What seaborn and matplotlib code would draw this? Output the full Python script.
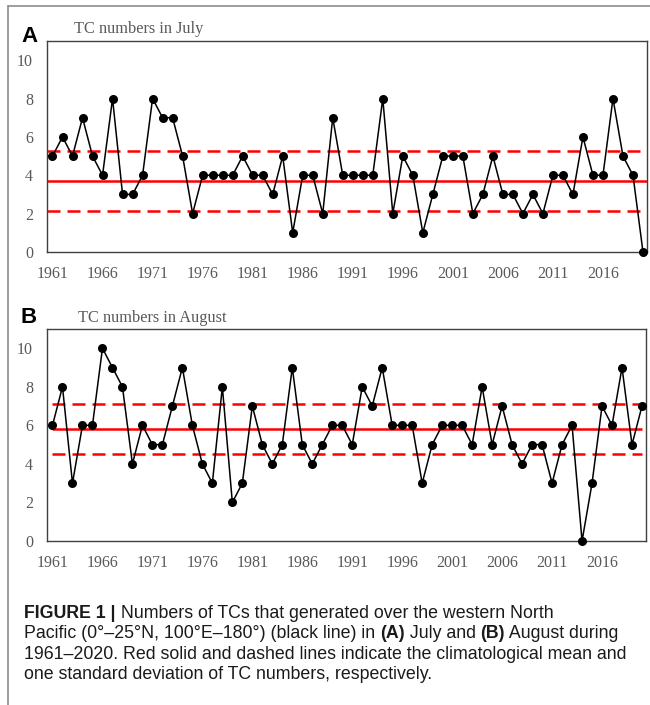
import numpy as np
import pandas as pd
import matplotlib
matplotlib.use('Agg')
import matplotlib.pyplot as plt
from matplotlib.lines import Line2D
import seaborn as sns

# TC counts, 1961-2020
years = list(range(1961, 2021))
july = [5, 6, 5, 7, 5, 4, 8, 3, 3, 4,
        8, 7, 7, 5, 2, 4, 4, 4, 4, 5,
        4, 4, 3, 5, 1, 4, 4, 2, 7, 4,
        4, 4, 4, 8, 2, 5, 4, 1, 3, 5,
        5, 5, 2, 3, 5, 3, 3, 2, 3, 2,
        4, 4, 3, 6, 4, 4, 8, 5, 4, 0]
august = [6, 8, 3, 6, 6, 10, 9, 8, 4, 6,
          5, 5, 7, 9, 6, 4, 3, 8, 2, 3,
          7, 5, 4, 5, 9, 5, 4, 5, 6, 6,
          5, 8, 7, 9, 6, 6, 6, 3, 5, 6,
          6, 6, 5, 8, 5, 7, 5, 4, 5, 5,
          3, 5, 6, 0, 3, 7, 6, 9, 5, 7]

# climatological mean and one std, as drawn
july_mean, july_std = 3.7, 1.55
aug_mean, aug_std = 5.8, 1.3

label_years = list(range(1961, 2017, 5))
titles = ['TC numbers in July', 'TC numbers in August']
letters = ['A', 'B']

caption_lines = [
    [('FIGURE 1 |', True), (' Numbers of TCs that generated over the western North', False)],
    [('Pacific (0°–25°N, 100°E–180°) (black line) in ', False), ('(A)', True),
     (' July and ', False), ('(B)', True), (' August during', False)],
    [('1961–2020. Red solid and dashed lines indicate the climatological mean and', False)],
    [('one standard deviation of TC numbers, respectively.', False)],
]

sns.set_style('white')
plt.rcParams['font.family'] = ['Liberation Serif', 'DejaVu Serif']

W, H = 650, 705
fig = plt.figure(figsize=(W / 100, H / 100), dpi=100)

df = pd.DataFrame({'year': years, 'July': july, 'August': august})
panels = [('July', july_mean, july_std, [0.0723, 1 - 252 / H, 600 / W, 211 / H]),
          ('August', aug_mean, aug_std, [0.0723, 1 - 541 / H, 599 / W, 212 / H])]
letter_off = [-1, 6]   # px above the axes top
title_off = [8, 7]

spine_col = '#404040'
text_col = '#595959'

for i, (col, mean, std, rect) in enumerate(panels):
    ax = fig.add_axes(rect)
    # mean and +-1 std lines
    if i == 0:
        ax.axhline(mean, color='#ff0000', lw=1.8, zorder=1)
        ax.axhline(mean + std, color='#ff0000', lw=1.8, dashes=(5.2, 2.8), zorder=1)
        ax.axhline(mean - std, color='#ff0000', lw=1.8, dashes=(5.2, 2.8), zorder=1)
    else:
        ax.hlines(mean, years[0], years[-1], color='#ff0000', lw=1.8, zorder=1)
        ax.hlines([mean + std, mean - std], years[0], years[-1], color='#ff0000',
                  lw=1.8, linestyles=(0, (5.2, 2.8)), zorder=1)
    sns.lineplot(data=df, x='year', y=col, ax=ax, color='black', lw=1.1,
                 marker='o', markersize=6.5, markeredgewidth=0, zorder=3, clip_on=False)

    ax.set_xlim(1960.45, 2020.4)
    ax.set_ylim(0, 11)
    ax.set_xlabel('')
    ax.set_ylabel('')
    ax.set_yticks(range(0, 11, 2))
    ax.set_xticks(label_years)
    ax.set_xticks(np.arange(1965.5, 2020, 5), minor=True)
    ax.tick_params(axis='x', which='major', length=0, pad=10, labelsize=11.5, labelcolor=text_col)
    ax.tick_params(axis='x', which='minor', length=4, width=0.9, direction='in', color=spine_col)
    ax.tick_params(axis='y', which='major', length=3, width=0.9, direction='in', color=spine_col,
                   pad=10, labelsize=11.5, labelcolor=text_col)
    for s in ax.spines.values():
        s.set_visible(True)
        s.set_color(spine_col)
        s.set_linewidth(1.0)

    top = rect[1] + rect[3]
    fig.text(rect[0] + 27 / W + (4 / W if i == 1 else 0), top + title_off[i] / H, titles[i],
             fontsize=11.8, color=text_col, va='baseline', ha='left')
    fig.text(21 / W, top + letter_off[i] / H, letters[i], fontsize=16, fontweight='bold',
             family='Liberation Sans', color='black', va='baseline', ha='left')

# outer frame lines
fig.add_artist(Line2D([8 / W, 8 / W], [0, 1 - 6 / H], transform=fig.transFigure,
                      color='#8c8c8c', lw=1.2))
fig.add_artist(Line2D([8 / W, 1], [1 - 6 / H, 1 - 6 / H], transform=fig.transFigure,
                      color='#8c8c8c', lw=1.2))

# caption, drawn piece by piece so bold parts can sit inline
renderer = fig.canvas.get_renderer()
y0 = 618
for k, line in enumerate(caption_lines):
    x = 24
    y = 1 - (y0 + k * 20.3) / H
    for txt, bold in line:
        t = fig.text(x / W, y, txt, fontsize=12.8, family='Liberation Sans',
                     fontweight='bold' if bold else 'normal', color='#1a1a1a',
                     va='baseline', ha='left')
        x += t.get_window_extent(renderer).width

fig.savefig('out.png', dpi=100)
